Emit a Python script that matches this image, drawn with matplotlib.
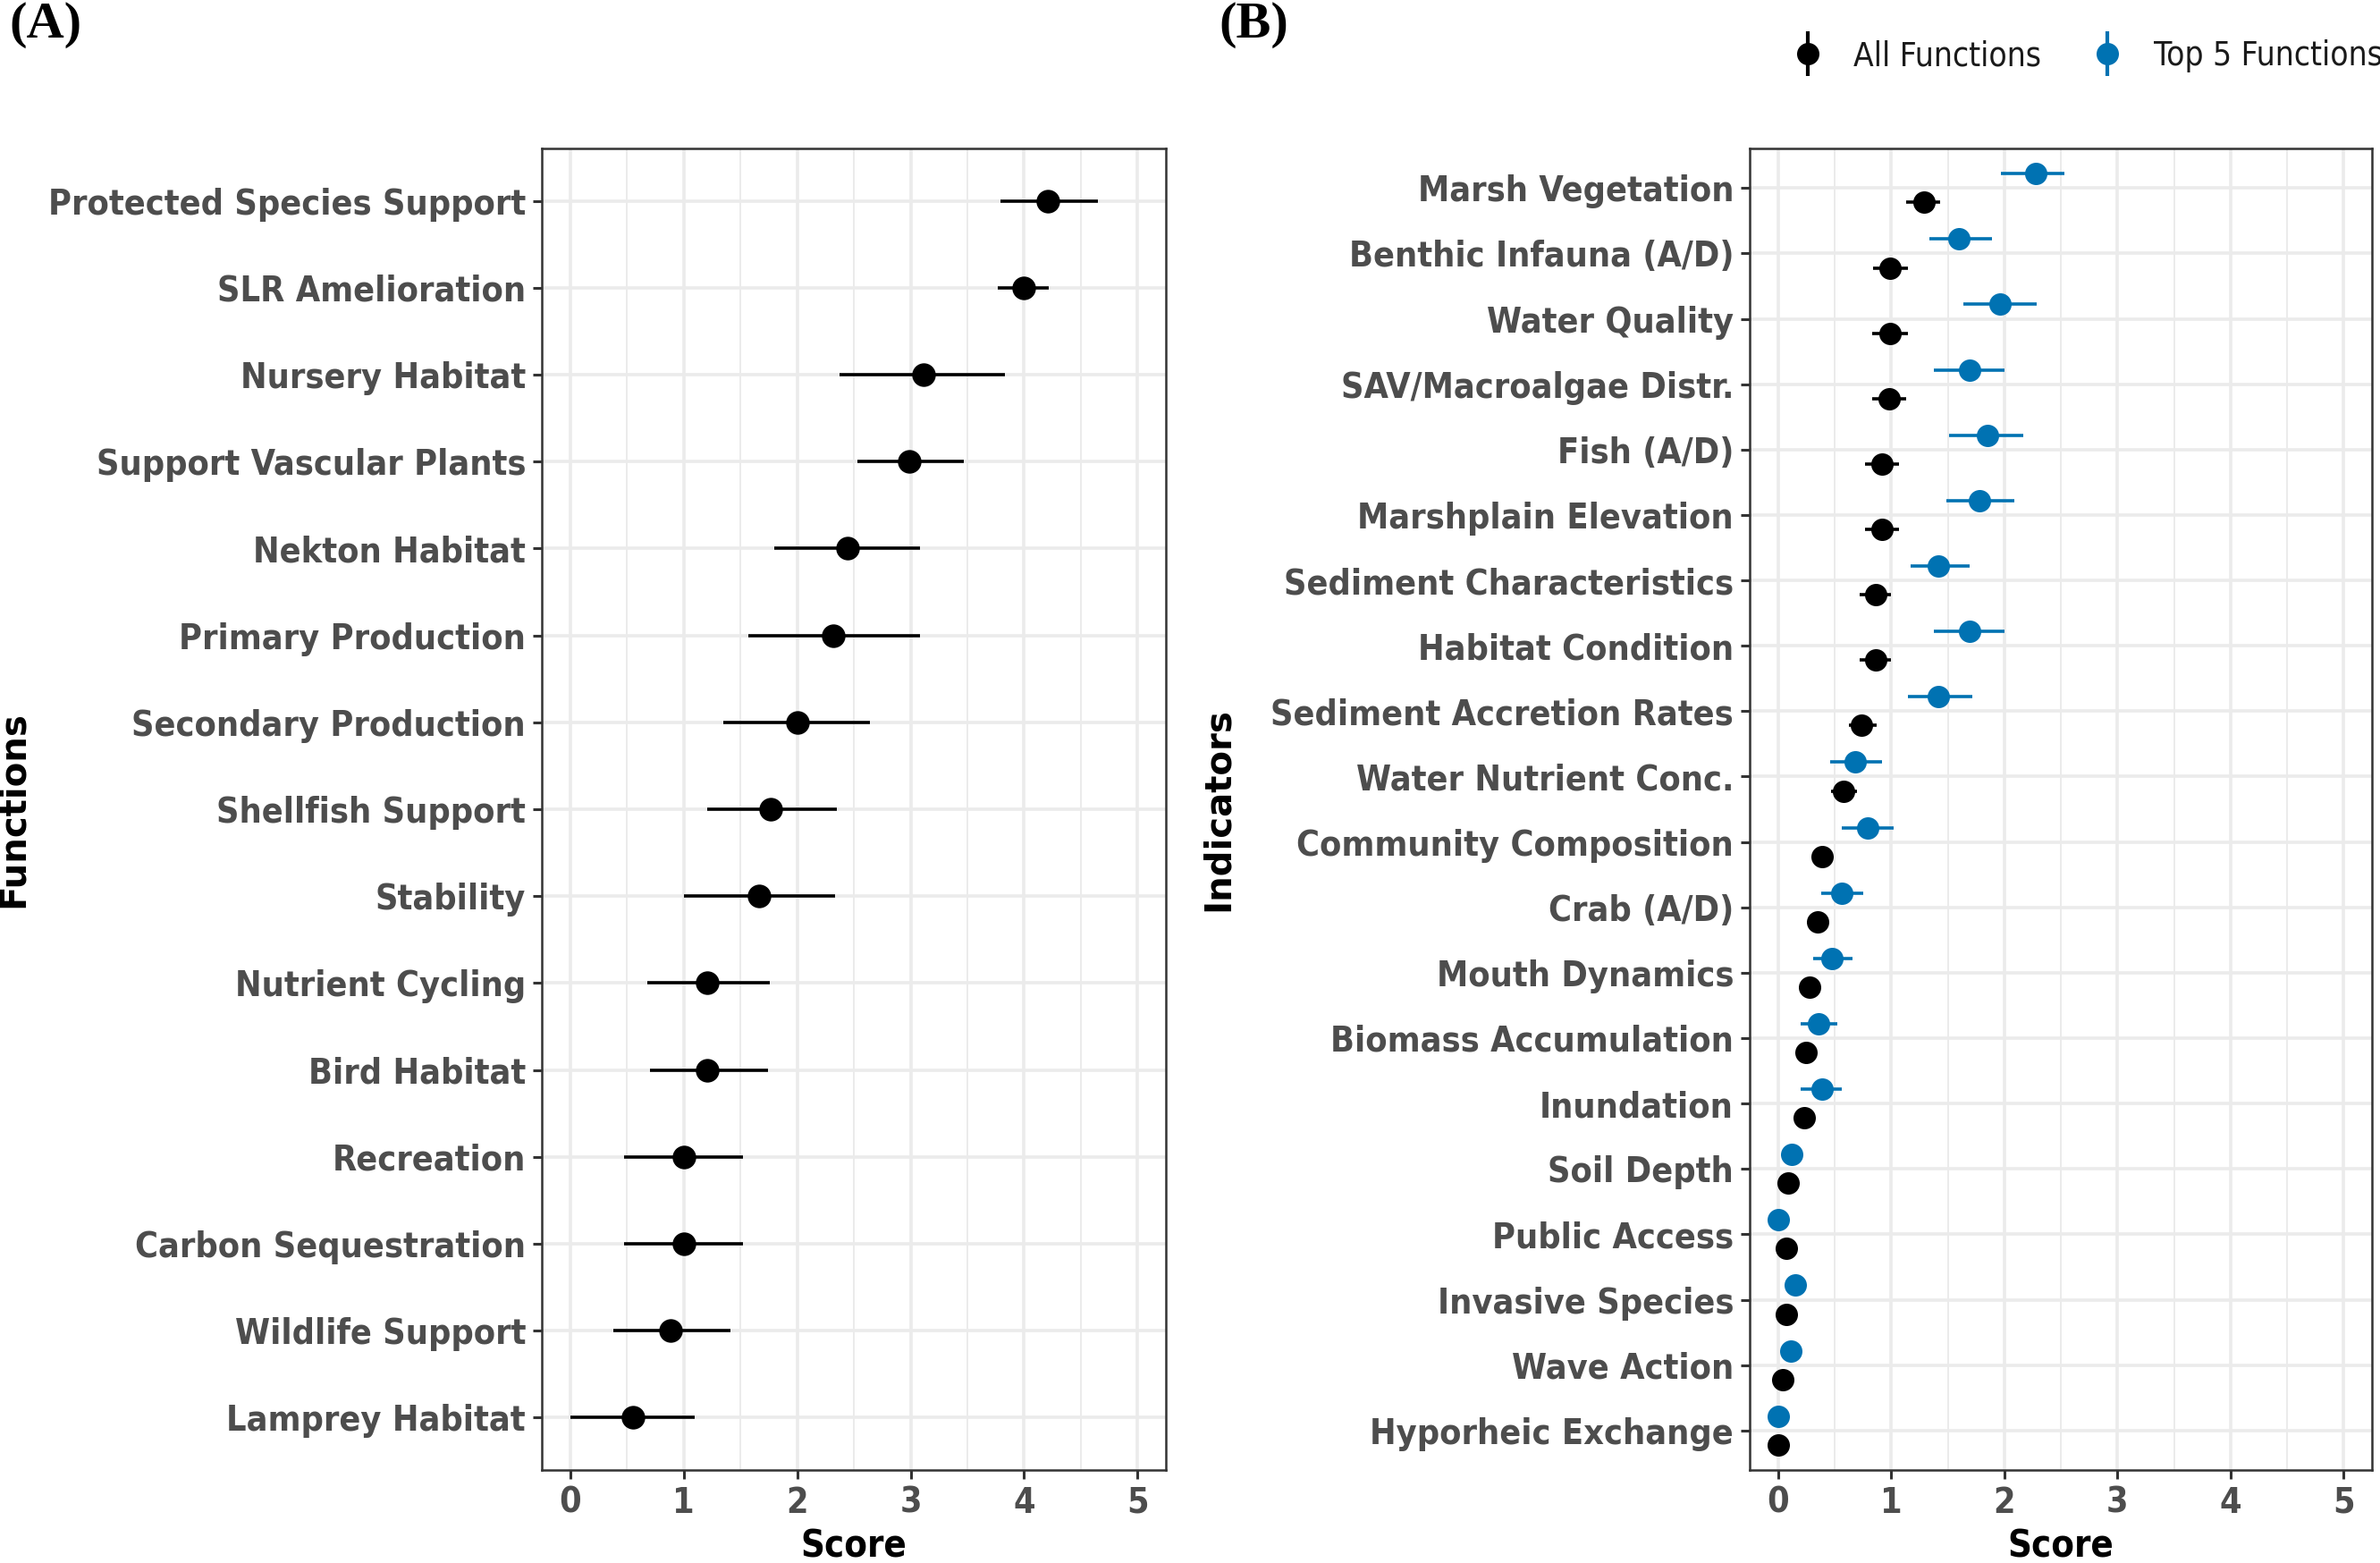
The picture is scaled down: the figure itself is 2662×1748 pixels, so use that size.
import matplotlib.pyplot as plt
from matplotlib.lines import Line2D
from matplotlib.legend_handler import HandlerTuple
from matplotlib.ticker import MultipleLocator
from matplotlib import font_manager
import numpy as np

# panel A: functions
functions = ["Protected Species Support", "SLR Amelioration", "Nursery Habitat",
             "Support Vascular Plants", "Nekton Habitat", "Primary Production",
             "Secondary Production", "Shellfish Support", "Stability",
             "Nutrient Cycling", "Bird Habitat", "Recreation",
             "Carbon Sequestration", "Wildlife Support", "Lamprey Habitat"]
func_score = [4.21, 4.00, 3.11, 2.99, 2.44, 2.32, 2.00, 1.77, 1.66, 1.21, 1.21, 1.00, 1.00, 0.88, 0.55]
func_lo = [3.79, 3.77, 2.37, 2.53, 1.80, 1.57, 1.35, 1.21, 1.00, 0.68, 0.70, 0.47, 0.47, 0.38, 0.00]
func_hi = [4.65, 4.22, 3.83, 3.47, 3.08, 3.08, 2.64, 2.35, 2.33, 1.76, 1.74, 1.52, 1.52, 1.41, 1.10]

# panel B: indicators
indicators = ["Marsh Vegetation", "Benthic Infauna (A/D)", "Water Quality",
              "SAV/Macroalgae Distr.", "Fish (A/D)", "Marshplain Elevation",
              "Sediment Characteristics", "Habitat Condition", "Sediment Accretion Rates",
              "Water Nutrient Conc.", "Community Composition", "Crab (A/D)",
              "Mouth Dynamics", "Biomass Accumulation", "Inundation", "Soil Depth",
              "Public Access", "Invasive Species", "Wave Action", "Hyporheic Exchange"]
all_score = [1.29, 0.99, 0.99, 0.98, 0.92, 0.92, 0.86, 0.86, 0.74, 0.58,
             0.39, 0.35, 0.28, 0.25, 0.23, 0.09, 0.07, 0.07, 0.04, 0.00]
all_lo = [1.13, 0.84, 0.83, 0.83, 0.77, 0.77, 0.72, 0.72, 0.63, 0.47,
          0.33, 0.29, 0.22, 0.19, 0.17, 0.05, 0.03, 0.03, 0.01, 0.00]
all_hi = [1.43, 1.15, 1.15, 1.13, 1.07, 1.07, 1.00, 1.00, 0.87, 0.70,
          0.46, 0.42, 0.34, 0.31, 0.29, 0.13, 0.11, 0.11, 0.07, 0.00]
top5_score = [2.28, 1.60, 1.96, 1.69, 1.85, 1.78, 1.42, 1.69, 1.42, 0.68,
              0.79, 0.56, 0.48, 0.36, 0.39, 0.12, 0.00, 0.15, 0.11, 0.00]
top5_lo = [1.97, 1.34, 1.64, 1.38, 1.51, 1.49, 1.17, 1.38, 1.15, 0.46,
           0.56, 0.38, 0.31, 0.20, 0.20, 0.06, 0.00, 0.08, 0.05, 0.00]
top5_hi = [2.53, 1.89, 2.29, 2.00, 2.17, 2.09, 1.69, 2.00, 1.72, 0.92,
           1.02, 0.75, 0.66, 0.52, 0.56, 0.18, 0.00, 0.22, 0.17, 0.00]

BLUE = "#0072B2"
TICK_COLOR = "#4D4D4D"

# narrow bold face for the tick labels (DejaVu Sans Condensed if present)
cond = [f for f in font_manager.fontManager.ttflist
        if f.name == "DejaVu Sans" and f.stretch == "condensed"]
NARROW = dict(family="DejaVu Sans", stretch="condensed") if cond else dict(family="DejaVu Sans")

fig = plt.figure(figsize=(13.31, 8.74), dpi=200)
axA = fig.add_axes([0.2277, 0.0597, 0.2622, 0.8451])
axB = fig.add_axes([0.7352, 0.0597, 0.2614, 0.8451])


def style_axis(ax, labels):
    n = len(labels)
    ax.set_xlim(-0.25, 5.25)
    ax.set_ylim(n - 0.4, -0.6)
    ax.set_yticks(range(n))
    ax.set_yticklabels(labels, fontweight="bold", fontsize=14.2, color=TICK_COLOR, **NARROW)
    ax.set_xticks(range(6))
    ax.set_xticklabels([str(i) for i in range(6)], fontweight="bold",
                       fontsize=14.2, color=TICK_COLOR, **NARROW)
    ax.xaxis.set_minor_locator(MultipleLocator(0.5))
    ax.grid(which="major", color="#EBEBEB", linewidth=1.3)
    ax.grid(which="minor", axis="x", color="#EBEBEB", linewidth=0.7)
    ax.set_axisbelow(True)
    ax.tick_params(axis="both", which="major", length=3.5, width=1.1, color="#333333", pad=3)
    ax.tick_params(axis="x", which="minor", length=0)
    for sp in ax.spines.values():
        sp.set_color("#333333")
        sp.set_linewidth(0.9)
    ax.set_xlabel("Score", fontweight="bold", fontsize=15, labelpad=3, **NARROW)


# panel A
yA = np.arange(len(functions))
axA.hlines(yA, func_lo, func_hi, color="black", linewidth=1.3, zorder=2)
axA.plot(func_score, yA, "o", color="black", markersize=8.5, zorder=3)
style_axis(axA, functions)
axA.set_ylabel("Functions", family="DejaVu Sans", fontweight="bold", fontsize=14.5)
axA.yaxis.set_label_coords(-0.818, 0.5)

# panel B
yB = np.arange(len(indicators))
off = 0.22
axB.hlines(yB + off, all_lo, all_hi, color="black", linewidth=1.3, zorder=2)
axB.plot(all_score, yB + off, "o", color="black", markersize=8, zorder=3)
axB.hlines(yB - off, top5_lo, top5_hi, color=BLUE, linewidth=1.3, zorder=2)
axB.plot(top5_score, yB - off, "o", color=BLUE, markersize=8, zorder=3)
style_axis(axB, indicators)
axB.set_ylabel("Indicators", family="DejaVu Sans", fontweight="bold", fontsize=14.5)
axB.yaxis.set_label_coords(-0.826, 0.5)

# legend: point-range keys
h_all = (Line2D([], [], marker="|", markersize=18, markeredgewidth=1.5, color="black", linestyle="none"),
         Line2D([], [], marker="o", markersize=8, color="black", linestyle="none"))
h_top = (Line2D([], [], marker="|", markersize=18, markeredgewidth=1.5, color=BLUE, linestyle="none"),
         Line2D([], [], marker="o", markersize=8, color=BLUE, linestyle="none"))
fig.legend([h_all, h_top], ["All Functions", "Top 5 Functions"],
           handler_map={tuple: HandlerTuple(ndivide=1, pad=0)},
           loc="center left", bbox_to_anchor=(0.740, 0.964), ncol=2, frameon=False,
           prop=dict(size=13.3, **NARROW), handlelength=1.0, handletextpad=0.9,
           columnspacing=1.5, labelcolor="#1A1A1A")

fig.text(0.004, 0.999, "(A)", family="Liberation Serif", fontweight="bold", fontsize=21, va="top")
fig.text(0.512, 0.999, "(B)", family="Liberation Serif", fontweight="bold", fontsize=21, va="top")

fig.savefig("out.png", dpi=200)
